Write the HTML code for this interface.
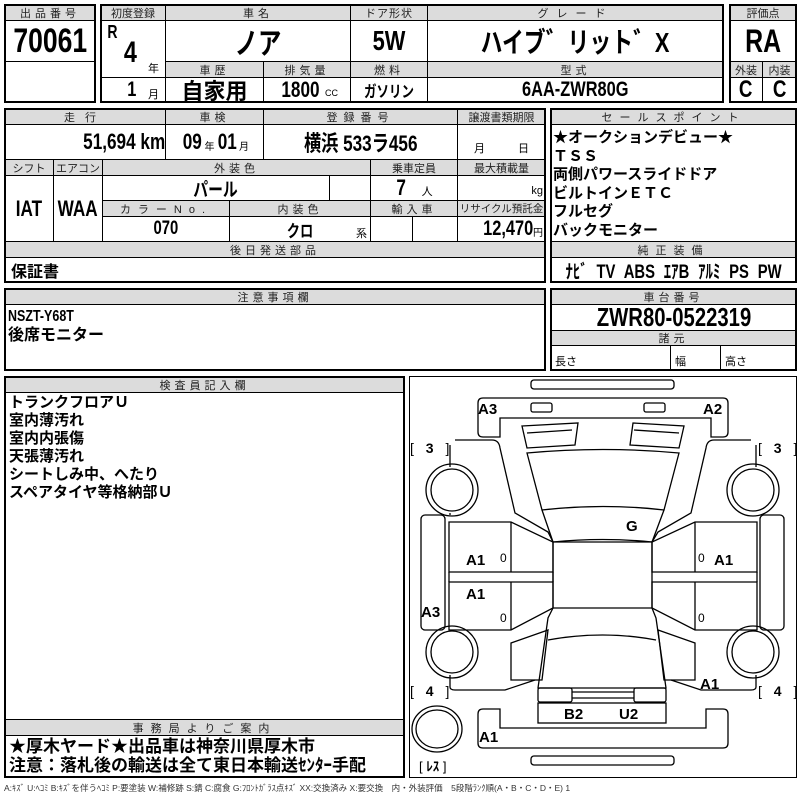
<!DOCTYPE html>
<html><head><meta charset="utf-8"><style>
*{margin:0;padding:0;box-sizing:border-box}
body{width:800px;height:800px;background:#fff;position:relative;overflow:hidden;font-family:"Liberation Sans","Noto Sans CJK JP",sans-serif;color:#000}
.c{position:absolute;border:1px solid #000;display:flex;align-items:center;justify-content:center;white-space:nowrap}
.h{background:#dcdcdc;font-size:11px;letter-spacing:4px;color:#222}
.o{position:absolute;border:2px solid #000}
.n{font-weight:bold;display:inline-block;transform:scaleX(.78)}
.t{position:absolute;white-space:nowrap}
</style></head><body>
<!-- box1 -->
<div class="c h" style="left:4px;top:4px;width:92px;height:17px">出品番号</div>
<div class="c" style="left:4px;top:20px;width:92px;height:42px"><span class="n" style="font-size:34px">70061</span></div>
<div class="c" style="left:4px;top:61px;width:92px;height:42px"></div>
<div class="o" style="left:4px;top:4px;width:92px;height:99px"></div>
<!-- box2 -->
<div class="c h" style="left:100px;top:4px;width:66px;height:17px;letter-spacing:0">初度登録</div>
<div class="c h" style="left:165px;top:4px;width:186px;height:17px">車名</div>
<div class="c h" style="left:350px;top:4px;width:78px;height:17px;letter-spacing:1px">ドア形状</div>
<div class="c h" style="left:427px;top:4px;width:297px;height:17px;letter-spacing:8px">グレード</div>
<div class="c" style="left:100px;top:20px;width:66px;height:58px"></div>
<div class="t" style="left:106px;top:22px;font-size:18px"><span class="n">R</span></div>
<div class="t" style="left:122px;top:36px;font-size:30px"><span class="n">4</span></div>
<div class="t" style="left:148px;top:60px;font-size:11px">年</div>
<div class="c" style="left:100px;top:77px;width:66px;height:26px"></div>
<div class="t" style="left:126px;top:78px;font-size:21px"><span class="n">1</span></div>
<div class="t" style="left:148px;top:86px;font-size:11px">月</div>
<div class="c" style="left:165px;top:20px;width:186px;height:42px"><span class="n" style="font-size:30px">ノア</span></div>
<div class="c" style="left:350px;top:20px;width:78px;height:42px"><span class="n" style="font-size:28px">5W</span></div>
<div class="c" style="left:427px;top:20px;width:297px;height:42px"><span class="n" style="font-size:28px">ハイブ゛リット゛X</span></div>
<div class="c h" style="left:165px;top:61px;width:99px;height:17px">車歴</div>
<div class="c h" style="left:263px;top:61px;width:88px;height:17px">排気量</div>
<div class="c h" style="left:350px;top:61px;width:78px;height:17px">燃料</div>
<div class="c h" style="left:427px;top:61px;width:297px;height:17px">型式</div>
<div class="c" style="left:165px;top:77px;width:99px;height:26px"><span style="font-size:22px;font-weight:bold">自家用</span></div>
<div class="c" style="left:263px;top:77px;width:88px;height:26px"><span class="n" style="font-size:22px">1800</span><span style="font-size:9px;margin-top:6px">CC</span></div>
<div class="c" style="left:350px;top:77px;width:78px;height:26px"><span class="n" style="font-size:16px">ガソリン</span></div>
<div class="c" style="left:427px;top:77px;width:297px;height:26px"><span class="n" style="font-size:21px">6AA-ZWR80G</span></div>
<div class="o" style="left:100px;top:4px;width:624px;height:99px"></div>
<!-- box3 -->
<div class="c h" style="left:729px;top:4px;width:68px;height:17px;letter-spacing:0">評価点</div>
<div class="c" style="left:729px;top:20px;width:68px;height:42px"><span class="n" style="font-size:32px">RA</span></div>
<div class="c h" style="left:729px;top:61px;width:34px;height:17px;letter-spacing:0">外装</div>
<div class="c h" style="left:762px;top:61px;width:35px;height:17px;letter-spacing:0">内装</div>
<div class="c" style="left:729px;top:77px;width:34px;height:26px"><span class="n" style="font-size:24px">C</span></div>
<div class="c" style="left:762px;top:77px;width:35px;height:26px"><span class="n" style="font-size:24px">C</span></div>
<div class="o" style="left:729px;top:4px;width:68px;height:99px"></div>
<!-- box4 -->
<div class="c h" style="left:4px;top:108px;width:162px;height:17px;letter-spacing:10px">走行</div>
<div class="c h" style="left:165px;top:108px;width:99px;height:17px">車検</div>
<div class="c h" style="left:263px;top:108px;width:195px;height:17px;letter-spacing:6px">登録番号</div>
<div class="c h" style="left:457px;top:108px;width:89px;height:17px;letter-spacing:0">譲渡書類期限</div>
<div class="c" style="left:4px;top:124px;width:162px;height:36px;justify-content:flex-end;padding-right:0"><span class="n" style="font-size:22px;transform-origin:right">51,694 km</span></div>
<div class="c" style="left:165px;top:124px;width:99px;height:36px"><span class="n" style="font-size:22px">09</span><span style="font-size:10px;margin:6px 0 0">年</span><span class="n" style="font-size:22px">01</span><span style="font-size:10px;margin:6px 0 0 0">月</span></div>
<div class="c" style="left:263px;top:124px;width:195px;height:36px"><span class="n" style="font-size:22px">横浜 533ラ456</span></div>
<div class="c" style="left:457px;top:124px;width:89px;height:36px;font-size:11px;align-items:flex-end;padding-bottom:3px;word-spacing:30px">月 日</div>
<div class="c h" style="left:4px;top:159px;width:50px;height:17px;letter-spacing:0">シフト</div>
<div class="c h" style="left:53px;top:159px;width:50px;height:17px;letter-spacing:0">エアコン</div>
<div class="c h" style="left:102px;top:159px;width:269px;height:17px">外装色</div>
<div class="c h" style="left:370px;top:159px;width:88px;height:17px;letter-spacing:0">乗車定員</div>
<div class="c h" style="left:457px;top:159px;width:89px;height:17px;letter-spacing:0">最大積載量</div>
<div class="c" style="left:4px;top:175px;width:50px;height:67px"><span class="n" style="font-size:22px">IAT</span></div>
<div class="c" style="left:53px;top:175px;width:50px;height:67px"><span class="n" style="font-size:22px">WAA</span></div>
<div class="c" style="left:102px;top:175px;width:228px;height:26px"><span class="n" style="font-size:19px">パール</span></div>
<div class="c" style="left:329px;top:175px;width:42px;height:26px"></div>
<div class="c" style="left:370px;top:175px;width:88px;height:26px"><span class="n" style="font-size:22px">7</span><span style="font-size:11px;margin:6px 0 0 14px">人</span></div>
<div class="c" style="left:457px;top:175px;width:89px;height:26px;font-size:11px;justify-content:flex-end;padding:6px 2px 0 0">kg</div>
<div class="c h" style="left:102px;top:200px;width:128px;height:17px;letter-spacing:7px">カラーNo.</div>
<div class="c h" style="left:229px;top:200px;width:142px;height:17px">内装色</div>
<div class="c h" style="left:370px;top:200px;width:88px;height:17px">輸入車</div>
<div class="c h" style="left:457px;top:200px;width:89px;height:17px;letter-spacing:0;font-size:10.5px">リサイクル預託金</div>
<div class="c" style="left:102px;top:216px;width:128px;height:26px"><span class="n" style="font-size:19px">070</span></div>
<div class="c" style="left:229px;top:216px;width:142px;height:26px"><span class="n" style="font-size:17px">クロ</span></div>
<div class="t" style="left:356px;top:225px;font-size:11px">系</div>
<div class="c" style="left:370px;top:216px;width:43px;height:26px"></div>
<div class="c" style="left:412px;top:216px;width:46px;height:26px"></div>
<div class="c" style="left:457px;top:216px;width:89px;height:26px;justify-content:flex-end;padding-right:2px"><span class="n" style="font-size:21px;transform-origin:right">12,470</span><span style="font-size:10px;margin-top:5px">円</span></div>
<div class="c h" style="left:4px;top:241px;width:542px;height:17px">後日発送部品</div>
<div class="c" style="left:4px;top:257px;width:542px;height:26px;font-size:16px;font-weight:bold;justify-content:flex-start;padding-left:6px">保証書</div>
<div class="o" style="left:4px;top:108px;width:542px;height:175px"></div>
<!-- box5 -->
<div class="c h" style="left:550px;top:108px;width:247px;height:17px;letter-spacing:7px">セールスポイント</div>
<div class="c" style="left:550px;top:124px;width:247px;height:118px"></div>
<div class="t" style="left:553px;top:129px;font-size:15px;line-height:18.5px;font-weight:bold">★オークションデビュー★<br>ＴＳＳ<br>両側パワースライドドア<br>ビルトインＥＴＣ<br>フルセグ<br>バックモニター</div>
<div class="c h" style="left:550px;top:241px;width:247px;height:17px;letter-spacing:7px">純正装備</div>
<div class="c" style="left:550px;top:257px;width:247px;height:26px"><span class="n" style="font-size:19px;word-spacing:6px">ﾅﾋﾞ TV ABS ｴｱB ｱﾙﾐ PS PW</span></div>
<div class="o" style="left:550px;top:108px;width:247px;height:175px"></div>
<!-- box6 -->
<div class="c h" style="left:4px;top:288px;width:542px;height:17px">注意事項欄</div>
<div class="t" style="left:8px;top:307px;font-size:16px;line-height:19px;font-weight:bold"><span class="n" style="transform-origin:left">NSZT-Y68T</span><br>後席モニター</div>
<div class="o" style="left:4px;top:288px;width:542px;height:83px"></div>
<!-- box7 -->
<div class="c h" style="left:550px;top:288px;width:247px;height:17px">車台番号</div>
<div class="c" style="left:550px;top:304px;width:247px;height:27px"><span class="n" style="font-size:26px">ZWR80-0522319</span></div>
<div class="c h" style="left:550px;top:330px;width:247px;height:16px">諸元</div>
<div class="c" style="left:550px;top:345px;width:121px;height:26px;font-size:11px;justify-content:flex-start;padding:6px 0 0 4px">長さ</div>
<div class="c" style="left:670px;top:345px;width:51px;height:26px;font-size:11px;justify-content:flex-start;padding:6px 0 0 4px">幅</div>
<div class="c" style="left:720px;top:345px;width:77px;height:26px;font-size:11px;justify-content:flex-start;padding:6px 0 0 4px">高さ</div>
<div class="o" style="left:550px;top:288px;width:247px;height:83px"></div>
<!-- box8 -->
<div class="c h" style="left:4px;top:376px;width:401px;height:17px">検査員記入欄</div>
<div class="t" style="left:9px;top:394px;font-size:15px;line-height:18px;font-weight:bold">トランクフロアＵ<br>室内薄汚れ<br>室内内張傷<br>天張薄汚れ<br>シートしみ中、へたり<br>スペアタイヤ等格納部Ｕ</div>
<div class="c h" style="left:4px;top:719px;width:401px;height:17px;letter-spacing:7px">事務局よりご案内</div>
<div class="t" style="left:9px;top:737px;font-size:17px;line-height:19px;font-weight:bold">★厚木ヤード★出品車は神奈川県厚木市<br>注意：落札後の輸送は全て東日本輸送ｾﾝﾀｰ手配</div>
<div class="o" style="left:4px;top:376px;width:401px;height:402px"></div>
<!-- box9 -->
<div class="o" style="left:409px;top:376px;width:388px;height:402px;border-width:1px"></div>
<svg style="position:absolute;left:0;top:0" width="800" height="800" fill="none" stroke="#000" stroke-width="1.3">
<rect x="531" y="380" width="143" height="9" rx="3"/>
<path d="M483,398H723q5,0 5,5V432q0,5-5,5H711V418H500V437H483q-5,0-5-5V403q0-5,5-5Z"/>
<rect x="531" y="403" width="21" height="9" rx="2"/><rect x="644" y="403" width="21" height="9" rx="2"/>
<path d="M522,426L578,423L575,445L527,448Z M527,433L572,430M633,423L684,426L679,448L630,445Z M634,430L679,433"/>
<path d="M527,453Q603,446 679,453L664,510Q603,503 542,510Z"/>
<path d="M542,510L553,542Q603,537 652,542L664,510"/>
<path d="M553,542H652V608H553Z"/>
<path d="M553,608L548,618L538,688H666L656,618L652,608"/>
<path d="M548,640Q603,630 656,640"/>
<path d="M455,440H492q7,0 8,8L515,513L548,532L553,542"/>
<path d="M450,445V467 M450,513V515"/>
<path d="M751,440H714q-7,0-8,8L691,513L658,532L652,542"/>
<path d="M756,445V467"/>
<path d="M449,522H511L553,542V572H449Z M511,522V572"/>
<path d="M449,582H553V608L511,630H449Z M511,582V630"/>
<path d="M449,572V582 M553,572V582"/>
<path d="M757,522H695L652,542V572H757Z M695,522V572"/>
<path d="M757,582H652V608L695,630H757Z M695,582V630"/>
<path d="M757,572V582"/>
<rect x="421" y="515" width="24" height="115" rx="4"/><rect x="760" y="515" width="24" height="115" rx="4"/>
<circle cx="452" cy="490" r="26"/><circle cx="452" cy="490" r="21"/>
<circle cx="753" cy="490" r="26"/><circle cx="753" cy="490" r="21"/>
<circle cx="452" cy="652" r="26"/><circle cx="452" cy="652" r="21"/>
<circle cx="753" cy="652" r="26"/><circle cx="753" cy="652" r="21"/>
<ellipse cx="437" cy="729" rx="25" ry="23"/><ellipse cx="437" cy="729" rx="21" ry="19"/>
<path d="M511,643L548,630L542,680L511,680Z M695,643L658,630L664,680L695,680Z"/>
<path d="M450,675V687q0,3 5,3H505L535,680 M756,675V687q0,3-5,3H701L671,680"/>
<rect x="538" y="688" width="34" height="14" rx="2"/><rect x="634" y="688" width="32" height="14" rx="2"/>
<path d="M572,692H634M572,698H634"/>
<rect x="538" y="703" width="128" height="20"/>
<path d="M483,709H500V728H706V709H723q5,0 5,5V743q0,5-5,5H483q-5,0-5-5V714q0-5,5-5Z"/>
<rect x="531" y="756" width="143" height="9" rx="3"/>
</svg>
<div class="t" style="font-weight:bold;font-size:15px;left:478px;top:401px">A3</div>
<div class="t" style="font-weight:bold;font-size:15px;left:703px;top:401px">A2</div>
<div class="t" style="font-size:14px;left:410px;top:440px;letter-spacing:4px">[ <b>3</b> ]</div>
<div class="t" style="font-size:14px;left:758px;top:440px;letter-spacing:4px">[ <b>3</b> ]</div>
<div class="t" style="font-weight:bold;font-size:15px;left:626px;top:518px">G</div>
<div class="t" style="font-weight:bold;font-size:15px;left:466px;top:552px">A1</div>
<div class="t" style="font-weight:bold;font-size:15px;left:714px;top:552px">A1</div>
<div class="t" style="font-weight:bold;font-size:15px;left:466px;top:586px">A1</div>
<div class="t" style="font-weight:bold;font-size:15px;left:421px;top:604px">A3</div>
<div class="t" style="font-size:12px;left:500px;top:551px">0</div>
<div class="t" style="font-size:12px;left:698px;top:551px">0</div>
<div class="t" style="font-size:12px;left:500px;top:611px">0</div>
<div class="t" style="font-size:12px;left:698px;top:611px">0</div>
<div class="t" style="font-weight:bold;font-size:15px;left:700px;top:676px">A1</div>
<div class="t" style="font-size:14px;left:410px;top:683px;letter-spacing:4px">[ <b>4</b> ]</div>
<div class="t" style="font-size:14px;left:758px;top:683px;letter-spacing:4px">[ <b>4</b> ]</div>
<div class="t" style="font-weight:bold;font-size:15px;left:564px;top:706px">B2</div>
<div class="t" style="font-weight:bold;font-size:15px;left:619px;top:706px">U2</div>
<div class="t" style="font-weight:bold;font-size:15px;left:479px;top:729px">A1</div>
<div class="t" style="font-size:13px;left:419px;top:756px">[ <b>ﾚｽ</b> ]</div>
<div class="t" style="left:4px;top:782px;font-size:8.5px;color:#333">A:ｷｽﾞ U:ﾍｺﾐ B:ｷｽﾞを伴うﾍｺﾐ P:要塗装 W:補修跡 S:錆 C:腐食 G:ﾌﾛﾝﾄｶﾞﾗｽ点ｷｽﾞ XX:交換済み X:要交換　内・外装評価　5段階ﾗﾝｸ順(A・B・C・D・E) 1</div>
</body></html>
